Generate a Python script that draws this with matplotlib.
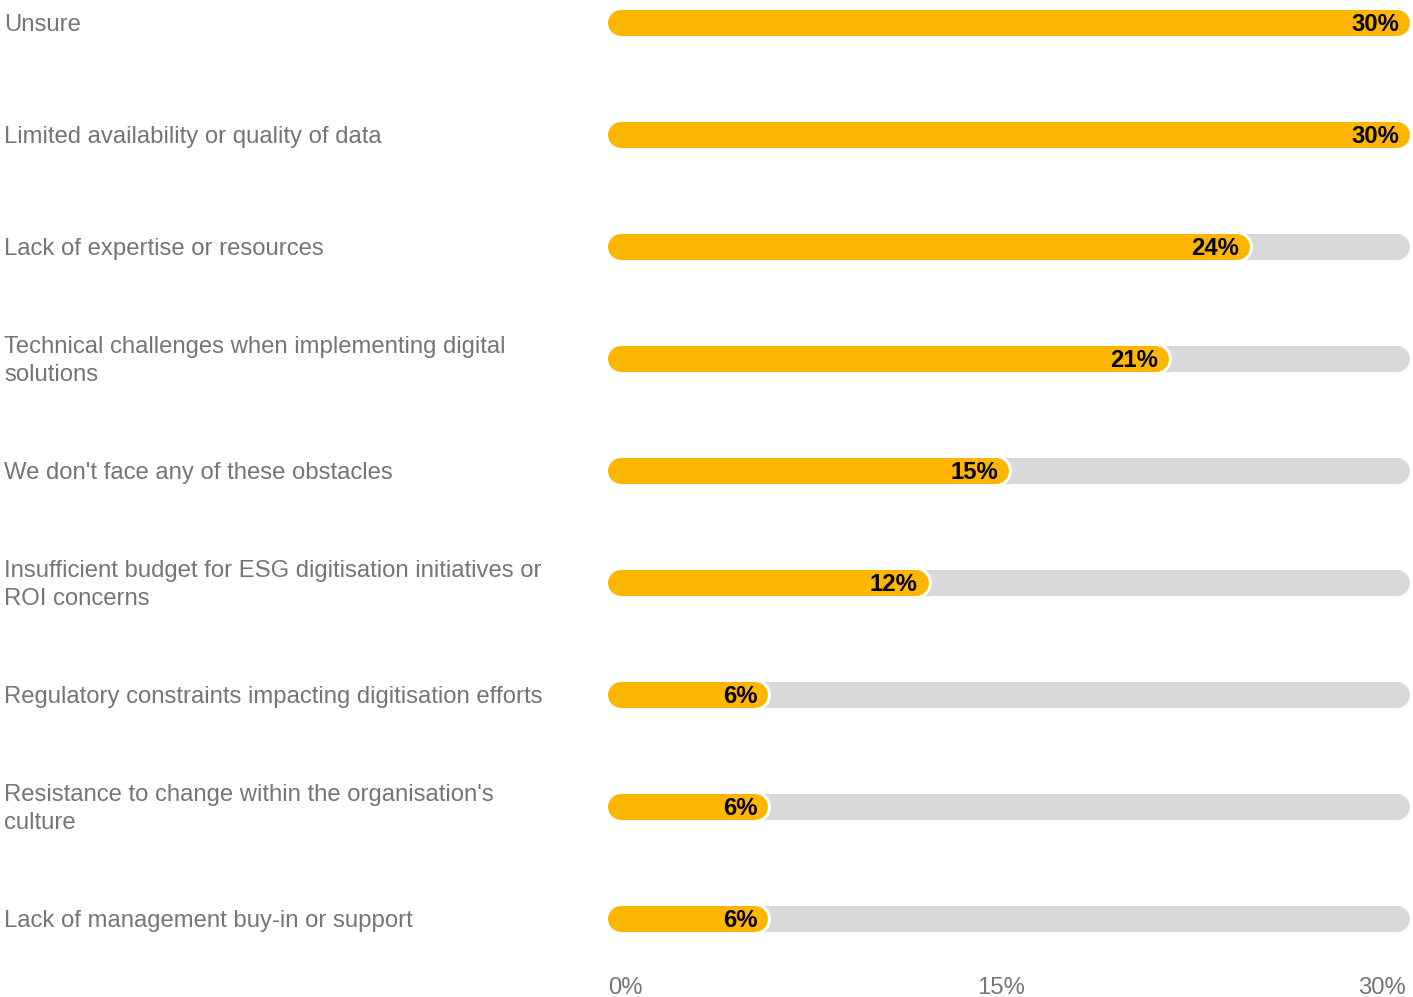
import matplotlib
matplotlib.use("Agg")
import matplotlib.pyplot as plt

plt.rcParams['font.family'] = ['Liberation Sans', 'DejaVu Sans']

categories = [
    "Unsure",
    "Limited availability or quality of data",
    "Lack of expertise or resources",
    "Technical challenges when implementing digital\nsolutions",
    "We don't face any of these obstacles",
    "Insufficient budget for ESG digitisation initiatives or\nROI concerns",
    "Regulatory constraints impacting digitisation efforts",
    "Resistance to change within the organisation's\nculture",
    "Lack of management buy-in or support",
]
values = [30, 30, 24, 21, 15, 12, 6, 6, 6]
tick_values = [0, 15, 30]
tick_labels = ["0%", "15%", "30%"]

W, H, DPI = 1413, 997, 100
fig = plt.figure(figsize=(W / DPI, H / DPI), dpi=DPI)

x_left_px, x_right_px = 608, 1410
row_top_px, row_step_px = 23, 112
bar_px = 26
xmax = 30
fs = 17.2

ax = fig.add_axes([x_left_px / W, 0, (x_right_px - x_left_px) / W, 1])
ax.set_xlim(0, xmax)
ax.set_ylim((H - row_top_px) / row_step_px, -row_top_px / row_step_px)
ax.axis("off")

px_per_unit = (x_right_px - x_left_px) / xmax
r = (bar_px / 2) / px_per_unit          # cap radius in data units
lw = bar_px * 72 / DPI                  # bar thickness in points
gap = 3                                 # white outline around the fill, px
lw_outline = (bar_px + 2 * gap) * 72 / DPI

text_color = "#757575"
fill_color = "#FFB600"
track_color = "#D9D9D9"

for i, (cat, v) in enumerate(zip(categories, values)):
    ax.plot([r, xmax - r], [i, i], color=track_color, lw=lw,
            solid_capstyle="round", zorder=1)
    ax.plot([r, v - r], [i, i], color="white", lw=lw_outline,
            solid_capstyle="round", zorder=2)
    ax.plot([r, v - r], [i, i], color=fill_color, lw=lw,
            solid_capstyle="round", zorder=3)
    ax.text(v - 11 / px_per_unit, i + 1.5 / row_step_px, f"{v}%",
            ha="right", va="center", fontsize=fs, fontweight="bold",
            color="black", zorder=4)
    fig.text(4 / W, 1 - (row_top_px + row_step_px * i + 2) / H, cat,
             ha="left", va="center", fontsize=fs, color=text_color,
             linespacing=1.3)

tick_y = (988 - row_top_px) / row_step_px
tick_shift_px = [0, -8, -4]
aligns = ["left", "center", "right"]
for tv, tl, al, dx in zip(tick_values, tick_labels, aligns, tick_shift_px):
    ax.text(tv + dx / px_per_unit, tick_y, tl, ha=al, va="center",
            fontsize=fs, color=text_color, clip_on=False)

fig.savefig("out.png", dpi=DPI)
